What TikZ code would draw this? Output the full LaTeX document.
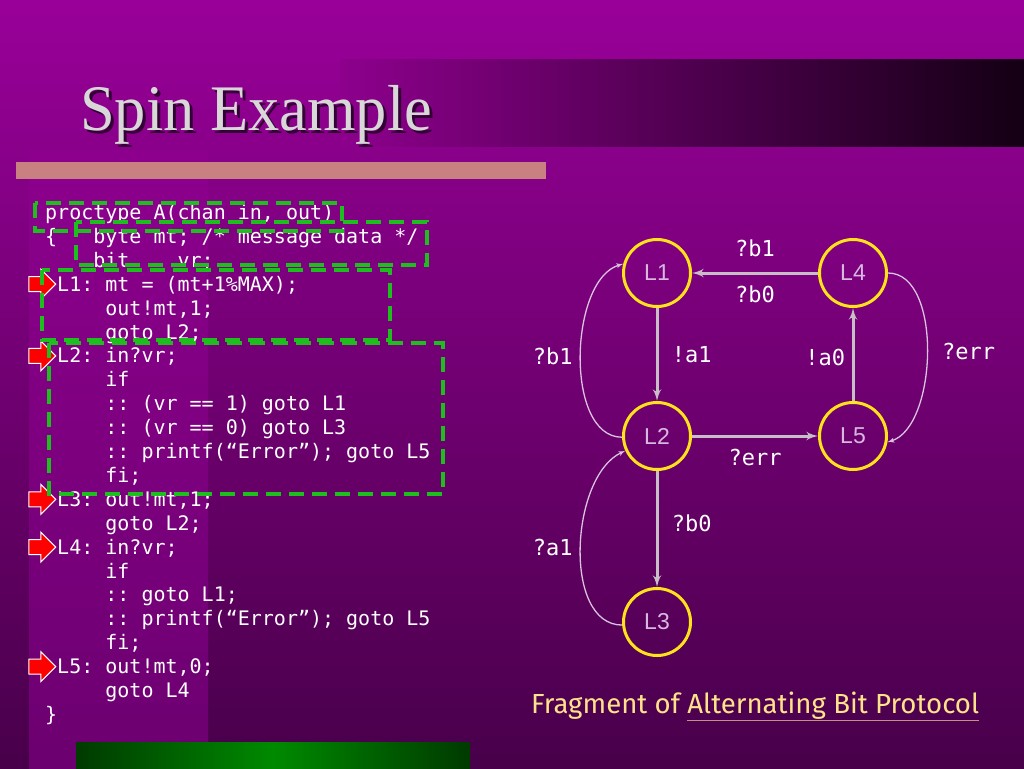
\documentclass[tikz,border=0pt]{standalone}
\usepackage{fontspec}
\setmainfont{Liberation Serif}
\setsansfont{Liberation Sans}
\setmonofont{DejaVu Sans Mono}
\newfontfamily\capfont{Fira Sans}
\usetikzlibrary{shapes,arrows,positioning}
\definecolor{bgtop}{HTML}{990099}
\definecolor{bgbot}{HTML}{48004A}
\definecolor{panelbot}{HTML}{6C0070}
\definecolor{bandend}{HTML}{140014}
\definecolor{ring}{HTML}{FFE21C}
\definecolor{edge}{HTML}{C8BEC8}
\definecolor{thin}{HTML}{D8C2DE}
\definecolor{statetext}{HTML}{D8B8E0}
\definecolor{hilite}{HTML}{1EBE1E}
\definecolor{captext}{HTML}{FFE38A}
\definecolor{ulcol}{HTML}{C89080}
\definecolor{barpink}{HTML}{C88080}
\definecolor{titlegrey}{HTML}{D8D8D8}
\definecolor{barmid}{HTML}{008A00}
\definecolor{barend}{HTML}{003A00}
\tikzstyle{state} = [circle, draw=ring, line width=3pt, minimum size=67pt,
    inner sep=0pt, text=statetext, font=\sffamily\fontsize{23}{23}\selectfont]
\tikzstyle{line} = [draw=edge, line width=3pt, -latex']
\tikzstyle{loopline} = [draw=thin, line width=1.3pt, -latex']
\tikzstyle{lbl} = [text=white, font=\ttfamily\fontsize{22}{22}\selectfont]
\tikzstyle{code} = [text=white, font=\ttfamily\fontsize{20}{24}\selectfont,
    anchor=base west, inner sep=0pt]
\tikzstyle{ptr} = [single arrow, draw=white, fill=red, line width=1pt,
    minimum height=27pt, inner xsep=0pt, inner ysep=7pt, single arrow head extend=7.5pt]
\tikzstyle{hibox} = [draw=hilite, line width=3.5pt, dash pattern=on 15pt off 8pt]

\begin{document}
\begin{tikzpicture}[x=1pt, y=-1pt, node distance=196pt]
    \useasboundingbox (0,0) rectangle (1024,768);
    % Slide background
    \shade [top color=bgtop, bottom color=bgbot] (0,0) rectangle (1024,768);
    \shade [top color=bgtop!85!bgbot, bottom color=panelbot] (29,150) rectangle (208,768);
    \shade [left color=bgtop!92!black, right color=bandend] (340,59) rectangle (1024,146);
    \fill [barpink] (16,162) rectangle (546,179);
    \shade [left color=barend, right color=barend, middle color=barmid] (76,742) rectangle (470,768);
    % Title
    \node [anchor=base west, inner sep=0pt, text=bgbot!70!black, font=\fontsize{65}{65}\selectfont] (shadow) at (83,133) {\scalebox{0.96}[1]{Spin Example}};
    \node [anchor=base west, inner sep=0pt, text=titlegrey, font=\fontsize{65}{65}\selectfont] (title) at (80,130) {\scalebox{0.96}[1]{Spin Example}};
    % Promela code
    \foreach \t [count=\i from 0] in {{proctype A(chan in, out)}, {\{~~~byte mt; /* message data */},
        {~~~~bit~~~~vr;}, {~L1: mt = (mt+1\%MAX);}, {~~~~~out!mt,1;}, {~~~~~goto L2;},
        {~L2: in?vr;}, {~~~~~if}, {~~~~~:: (vr == 1) goto L1}, {~~~~~:: (vr == 0) goto L3},
        {~~~~~:: printf(“Error”); goto L5}, {~~~~~fi;}, {~L3: out!mt,1;}, {~~~~~goto L2;},
        {~L4: in?vr;}, {~~~~~if}, {~~~~~:: goto L1;}, {~~~~~:: printf(“Error”); goto L5},
        {~~~~~fi;}, {~L5: out!mt,0;}, {~~~~~goto L4}, {\}}}
        \node [code] (line\i) at (45, {219.5+23.9*\i}) {\t};
    \foreach \i/\n in {3/1, 6/2, 12/3, 14/4, 19/5}
        \node [ptr] (ptr\n) at (38.5, {212.5+23.9*\i}) {};
    % Highlight boxes
    \draw [hibox] (35,203) rectangle (342,231);
    \draw [hibox] (76,222) rectangle (427,265);
    \draw [hibox] (42,270) rectangle (390,340);
    \draw [hibox] (49,343) rectangle (443,494);
    % Place nodes
    \node [state] (L1) at (657,273) {L1};
    \node [state, right of=L1] (L4) {L4};
    \node [state, below of=L1, node distance=163pt] (L2) {L2};
    \node [state, right of=L2] (L5) {L5};
    \node [state, below of=L2, node distance=186pt] (L3) {L3};
    % Draw edges
    \path [line] (L4) -- node [lbl, above=11pt] (b1) {?b1} node [lbl, below=8pt] (b0) {?b0} (L1);
    \path [line] (L1) -- node [lbl, right=10pt] (a1) {!a1} (L2);
    \path [line] (L5) -- node [lbl, left=3pt, yshift=-3pt] (a0) {!a0} (L4);
    \path [line] (L2) -- node [lbl, below=8pt] (err) {?err} (L5);
    \path [line] (L2) -- node [lbl, right=10pt, pos=0.45] (b0low) {?b0} (L3);
    \path [loopline] (L2.182) .. controls +(-58,0) and +(-54,15) .. (L1.165) node [lbl, left=4pt, pos=0.5] (b1left) {?b1};
    \path [loopline] (L4.0) .. controls +(55,0) and +(50,-15) .. (L5.-10) node [lbl, right=11pt, pos=0.5] (errright) {?err};
    \path [loopline] (L3.185) .. controls +(-60,0) and +(-55,25) .. (L2.205) node [lbl, left=4pt, pos=0.5] (a1left) {?a1};
    % Caption
    \node [anchor=base west, inner sep=0pt, text=captext, font=\capfont\fontsize{27.6}{27.6}\selectfont] (caption) at (531,713)
        {Fragment of {\color{ulcol}\underline{\color{captext}Alternating Bit Protocol}}};
\end{tikzpicture}
\end{document}
